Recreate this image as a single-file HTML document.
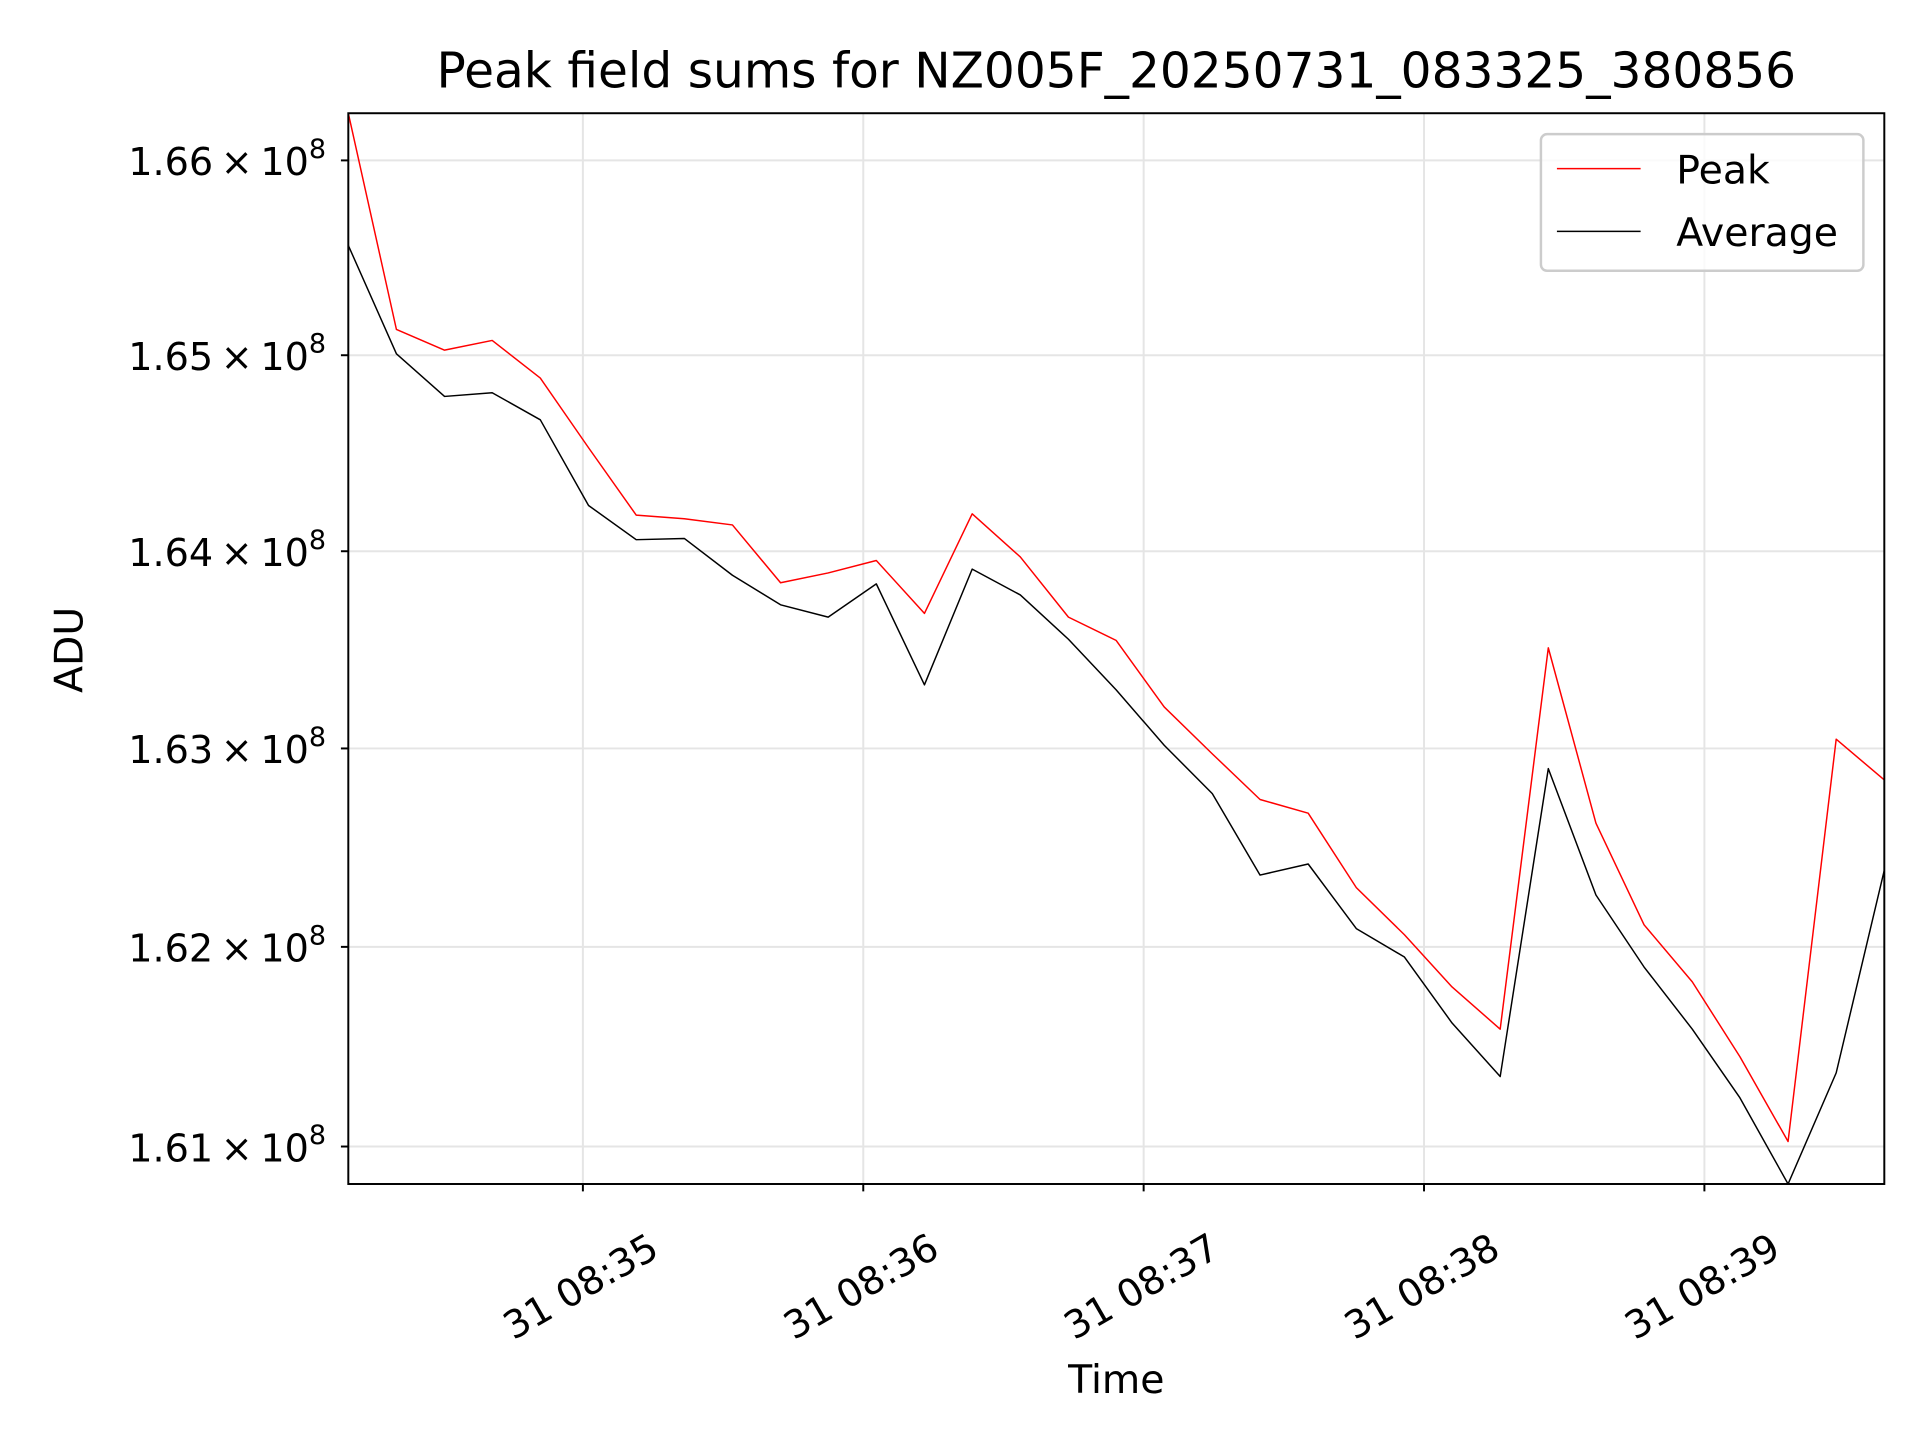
<!DOCTYPE html>
<html><head><meta charset="utf-8"><style>
html,body{margin:0;padding:0;background:#fff;}
svg{display:block;font-family:"DejaVu Sans","Liberation Sans",sans-serif;}
</style></head><body>
<svg id="chart" width="1920" height="1440" viewBox="0 0 1560 1170" xmlns="http://www.w3.org/2000/svg">
<rect width="1560" height="1170" fill="#fff"/>
<text x="907" y="71" font-size="39.5" text-anchor="middle">Peak field sums for NZ005F_20250731_083325_380856</text>
<g id="grid"></g>
<g id="series"></g>
<rect x="283" y="92" width="1248" height="870" fill="none" stroke="#000" stroke-width="1.6"/>
<g id="axes"></g>
<text x="907" y="1132" font-size="32" text-anchor="middle">Time</text>
<text transform="translate(67,528) rotate(-90)" font-size="32" text-anchor="middle">ADU</text>
<g>
<rect x="1252" y="109" width="262" height="111" rx="5" fill="#fff" fill-opacity="0.8" stroke="#ccc" stroke-width="2"/>
<line x1="1265" y1="137" x2="1333" y2="137" stroke="#ff0000" stroke-width="1.2"/>
<text x="1362" y="149" font-size="32">Peak</text>
<line x1="1265" y1="188" x2="1333" y2="188" stroke="#000" stroke-width="1.2"/>
<text x="1362" y="200" font-size="32">Average</text>
</g>
</svg>
<script>
// seconds after 08:34:00
const times = [9.8,20.1,30.4,40.6,50.9,61.2,71.4,81.7,92.0,102.3,112.5,122.8,133.1,143.3,153.6,163.9,174.1,184.4,194.7,204.9,215.2,225.5,235.8,246.0,256.3,266.6,276.8,287.1,297.4,307.6,317.9,328.2,338.5];
const peak = [1.66243,1.65132,1.65026,1.65076,1.64883,1.64527,1.64184,1.64165,1.64134,1.63840,1.63890,1.63953,1.63684,1.64190,1.63971,1.63665,1.63547,1.63210,1.62973,1.62742,1.62673,1.62298,1.62061,1.61799,1.61587,1.63509,1.62623,1.62111,1.61824,1.61449,1.61025,1.63047,1.62841];
const average = [1.65563,1.65007,1.64789,1.64808,1.64670,1.64233,1.64059,1.64065,1.63878,1.63728,1.63665,1.63834,1.63322,1.63909,1.63778,1.63553,1.63297,1.63016,1.62772,1.62361,1.62417,1.62092,1.61949,1.61618,1.61350,1.62898,1.62261,1.61899,1.61587,1.61243,1.60813,1.61368,1.62386];
const yTicks = [1.61,1.62,1.63,1.64,1.65,1.66];
const yTickLabels = ["1.61","1.62","1.63","1.64","1.65","1.66"];
const xTicks = [60,120,180,240,300];
const xTickLabels = ["31 08:35","31 08:36","31 08:37","31 08:38","31 08:39"];

const NS="http://www.w3.org/2000/svg";
const L=283,R=1531,T=92,B=962;
const xMin=Math.min(...times), xMax=Math.max(...times);
const yMin=1.60813, yMax=1.66243;
function xs(t){return L+(t-xMin)/(xMax-xMin)*(R-L);}
function ys(v){return B-(Math.log10(v)-Math.log10(yMin))/(Math.log10(yMax)-Math.log10(yMin))*(B-T);}
function mk(tag,attrs,parent){const e=document.createElementNS(NS,tag);for(const k in attrs)e.setAttribute(k,attrs[k]);parent.appendChild(e);return e;}
const grid=document.getElementById('grid'),axes=document.getElementById('axes'),series=document.getElementById('series');
yTicks.forEach((v,i)=>{
  const y=ys(v);
  const g=mk('line',{x1:L,x2:R,y1:y,y2:y,stroke:'#e5e5e5','stroke-width':1.6},grid);
  
  
  const t=mk('line',{x1:L-6,x2:L,y1:y,y2:y,stroke:'#000','stroke-width':1.6},axes);
  
  
  const tx=mk('text',{x:L-18,y:y+12,'font-size':31,'text-anchor':'end'},axes);
  
  
  tx.innerHTML=yTickLabels[i]+'\u2009\u00d7\u200910<tspan font-size="22" dy="-14">8</tspan>';
});
xTicks.forEach((s,i)=>{
  const x=xs(s);
  const g=mk('line',{x1:x,x2:x,y1:T,y2:B,stroke:'#e5e5e5','stroke-width':1.6},grid);
  
  
  const t=mk('line',{x1:x,x2:x,y1:B,y2:B+6,stroke:'#000','stroke-width':1.6},axes);
  
  
  const tx=mk('text',{x:0,y:11,'font-size':31,'text-anchor':'middle',transform:`translate(${x-2},${1045}) rotate(-30)`},axes);
  
  
  tx.textContent=xTickLabels[i];
});
function line(vals,color,name){
  const d=vals.map((v,i)=>(i?'L':'M')+xs(times[i]).toFixed(1)+','+ys(v).toFixed(1)).join(' ');
  const p=mk('path',{d:d,fill:'none',stroke:color,'stroke-width':1.2,'stroke-linejoin':'round'},series);
  
  
}
const cp=mk('clipPath',{id:'clip'},series);mk('rect',{x:L,y:T,width:R-L,height:B-T},cp);
series.setAttribute('clip-path','url(#clip)');
line(peak,'#ff0000','peak-line');
line(average,'#000000','average-line');
</script>
</body></html>
